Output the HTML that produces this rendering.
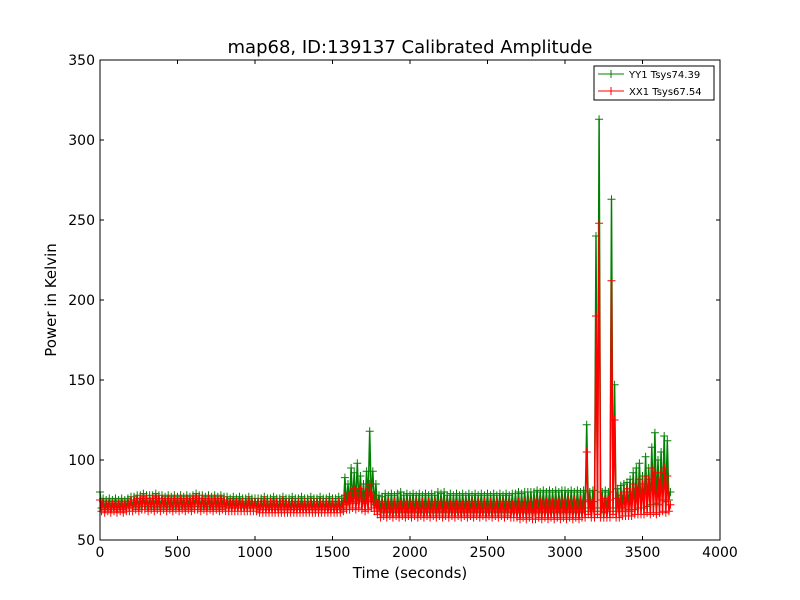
<!DOCTYPE html>
<html><head><meta charset="utf-8"><style>
body{margin:0;background:#fff}
svg{display:block;font-family:"DejaVu Sans","Liberation Sans",sans-serif}
</style></head><body>
<svg id="chart" width="800" height="600">
<rect width="800" height="600" fill="#fff"/>
<text x="410" y="53" font-size="18" text-anchor="middle">map68, ID:139137 Calibrated Amplitude</text>
<text x="410" y="578" font-size="15" text-anchor="middle">Time (seconds)</text>
<text transform="translate(56,300) rotate(-90)" font-size="15" text-anchor="middle">Power in Kelvin</text>
<g id="plot"></g>
<g id="axes"></g>
<g>
<rect x="594" y="66" width="120" height="34" fill="#fff" stroke="#000" stroke-width="1"/>
<g><line x1="598" y1="74" x2="624" y2="74" stroke="green"/><path d="M607 74h8M611 70v8" stroke="green"/><text x="629" y="78" font-size="10">YY1 Tsys74.39</text></g>
<g><line x1="598" y1="91" x2="624" y2="91" stroke="red"/><path d="M607 91h8M611 87v8" stroke="red"/><text x="629" y="95" font-size="10">XX1 Tsys67.54</text></g>
</g>
</svg>
<script>
const tStep = 10;
const yy1 = [
80,70,76,69,75,70,76,69,75,70,76,69,75,70,76,69,75,70,76,70,
77,70,77,71,78,70,78,71,79,71,78,70,78,71,78,70,79,71,78,70,
78,71,77,70,78,71,77,70,78,71,77,70,78,71,77,70,78,71,77,70,
78,71,79,71,78,70,78,71,77,70,78,71,77,70,78,71,77,70,78,71,
77,70,77,70,76,70,77,70,76,70,77,70,76,70,76,70,77,70,76,70,
76,70,76,69,76,69,77,69,76,69,76,69,77,69,76,69,76,69,77,69,
76,69,76,69,77,69,76,69,76,69,77,69,76,69,76,69,77,69,76,69,
76,69,77,69,76,69,76,69,77,69,76,69,76,69,77,69,76,70,89,72,
85,73,95,74,92,73,98,75,90,74,85,73,93,74,118,75,93,72,85,70,
78,68,77,67,79,68,78,67,79,68,78,67,79,68,80,67,78,68,79,67,
78,68,79,67,78,68,79,67,78,68,79,67,78,68,79,67,78,68,80,67,
79,68,80,67,78,68,79,67,78,68,79,67,78,68,79,67,78,68,79,67,
78,68,79,67,78,68,79,67,78,68,79,67,78,68,79,67,78,68,79,67,
78,68,79,67,78,68,79,67,79,68,80,67,79,68,80,67,80,68,80,67,
80,68,81,67,80,68,81,67,80,68,81,67,80,68,81,67,80,68,81,67,
81,68,80,67,81,68,80,67,81,68,80,67,81,68,122,70,80,68,81,68,
240,70,313,68,80,67,81,68,80,68,263,70,147,68,82,68,84,70,85,68,
86,69,88,68,92,69,95,70,98,70,90,70,102,71,95,72,108,72,117,73,
100,72,105,75,115,74,112,75,80];
const xx1 = [
75,68,74,67,73,68,74,67,73,68,74,67,73,68,74,67,73,68,74,68,
75,68,75,69,76,68,76,69,77,69,76,68,76,69,76,68,77,69,76,68,
76,69,75,68,76,69,75,68,76,69,75,68,76,69,75,68,76,69,75,68,
76,69,77,69,76,68,76,69,75,68,76,69,75,68,76,69,75,68,76,69,
75,68,75,68,74,68,75,68,74,68,75,68,74,68,74,68,75,68,74,68,
74,68,74,67,74,67,75,67,74,67,74,67,75,67,74,67,74,67,75,67,
74,67,74,67,74,67,74,67,74,67,74,67,74,67,74,67,74,67,74,67,
74,67,74,67,74,67,74,67,74,67,74,67,74,67,74,67,74,68,78,69,
78,69,80,70,82,69,80,70,82,69,78,68,80,69,85,70,78,68,75,66,
73,64,74,65,73,64,74,65,73,64,74,65,74,64,73,65,74,64,73,65,
74,64,73,65,74,64,73,65,74,64,73,65,74,64,73,65,74,64,73,65,
74,64,73,65,74,64,73,65,74,64,73,65,74,64,73,65,74,64,73,65,
74,64,73,65,74,64,73,65,74,64,73,65,74,64,73,65,74,64,73,65,
74,64,73,65,74,64,73,64,74,64,74,63,74,64,74,63,74,64,74,63,
74,63,75,64,74,63,75,64,74,63,75,64,74,63,75,64,74,63,75,64,
74,63,75,64,74,63,75,64,74,63,75,64,74,64,105,66,75,64,74,64,
190,66,248,64,75,64,76,64,75,64,212,66,125,64,76,64,78,65,80,65,
82,65,80,65,85,66,82,66,88,66,85,66,90,67,88,66,95,67,92,66,
88,67,92,68,95,67,90,68,72];
const xTicks = [0,500,1000,1500,2000,2500,3000,3500,4000];
const yTicks = [50,100,150,200,250,300,350];
const X0=100,X1=720,Y0=540,Y1=60;
const xs = v => X0 + (v-0)/(4000-0)*(X1-X0);
const ys = v => Y0 - (v-50)/(350-50)*(Y0-Y1);
const NS='http://www.w3.org/2000/svg';
const plot=document.getElementById('plot'), axes=document.getElementById('axes');
function series(data,color,name){
  const g=document.createElementNS(NS,'g');
  
  
  let d='',m='';
  data.forEach((v,i)=>{const x=xs(i*tStep),y=ys(v);d+=(i?'L':'M')+x.toFixed(1)+' '+y.toFixed(1);
    m+='M'+(x-4).toFixed(1)+' '+y.toFixed(1)+'h8M'+x.toFixed(1)+' '+(y-4).toFixed(1)+'v8';});
  const p=document.createElementNS(NS,'path');p.setAttribute('d',d);p.setAttribute('fill','none');p.setAttribute('stroke',color);p.setAttribute('stroke-width','1.5');
  
  
  const mk=document.createElementNS(NS,'path');mk.setAttribute('d',m);mk.setAttribute('stroke',color);mk.setAttribute('stroke-width','1');
  
  
  g.appendChild(p);g.appendChild(mk);plot.appendChild(g);
}
series(yy1,'green','series-yy1');
series(xx1,'red','series-xx1');
let a='<rect x="100" y="60" width="620" height="480" fill="none" stroke="#000" stroke-width="1"/>';
xTicks.forEach(t=>{const x=xs(t);a+=`<path d="M${x} 540v-4M${x} 60v4" stroke="#000"/><text x="${x}" y="557" font-size="14" text-anchor="middle">${t}</text>`;});
yTicks.forEach(t=>{const y=ys(t);a+=`<path d="M100 ${y}h4M720 ${y}h-4" stroke="#000"/><text x="95" y="${y+5}" font-size="14" text-anchor="end">${t}</text>`;});
axes.innerHTML=a;
</script>
</body></html>
